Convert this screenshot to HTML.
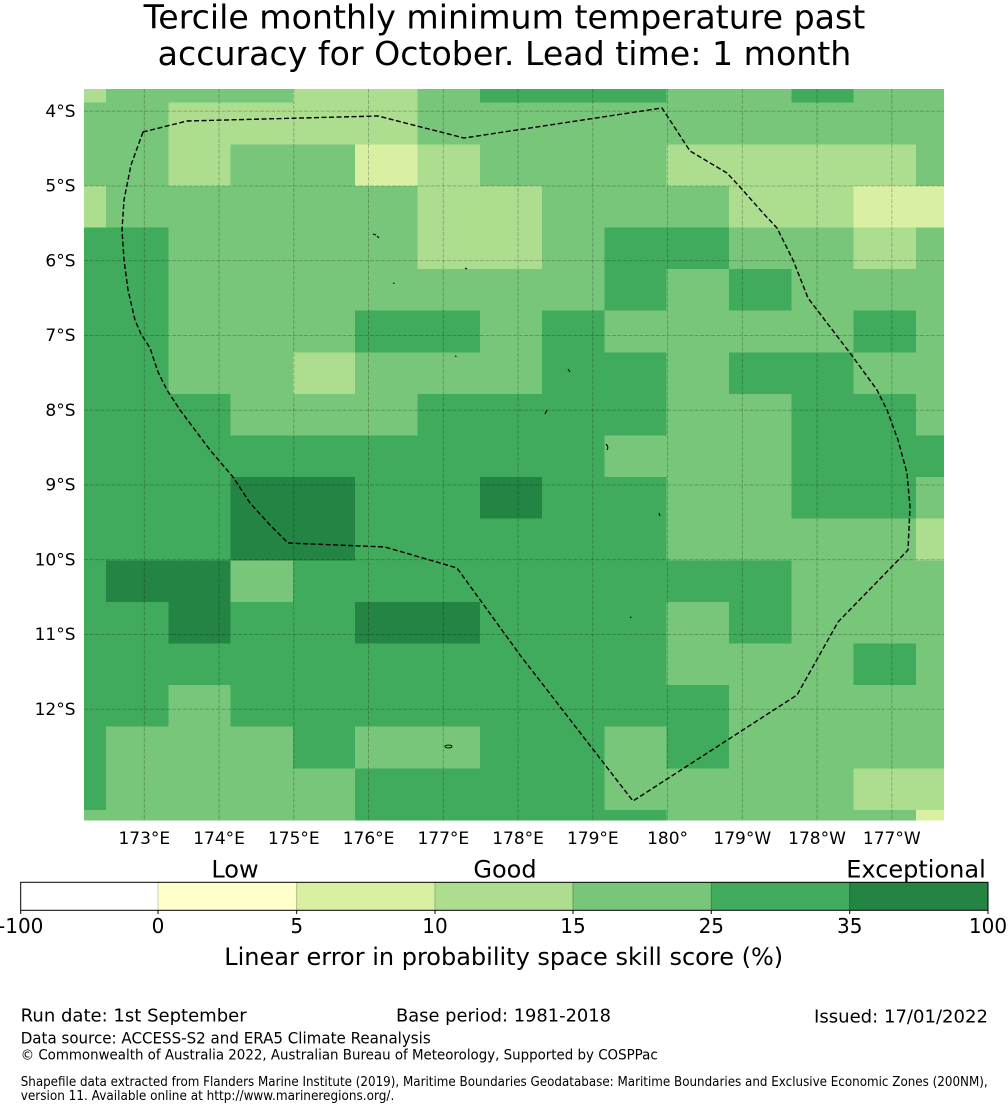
<!DOCTYPE html>
<html>
<head>
<meta charset="utf-8">
<style>
  html,body{margin:0;padding:0;background:#fff;}
  svg{display:block;}
  text{font-family:"DejaVu Sans","Liberation Sans",sans-serif;fill:#000;}
</style>
</head>
<body>
<svg xmlns="http://www.w3.org/2000/svg" width="1008" height="1110" viewBox="0 0 1008 1110">
  <rect x="0" y="0" width="1008" height="1110" fill="#fff"/>

  <!-- Title -->
  <text x="504.5" y="28.5" font-size="33.2" text-anchor="middle">Tercile monthly minimum temperature past</text>
  <text x="504.5" y="65" font-size="33.2" text-anchor="middle">accuracy for October. Lead time: 1 month</text>

  <!-- Map cells -->
  <g shape-rendering="crispEdges">
    <rect x="84" y="89" width="860" height="731.7" fill="#78c679"/>
    <!-- R0 -->
    <rect x="84" y="89" width="22" height="13.7" fill="#addd8e"/>
    <rect x="292.9" y="89" width="124.6" height="13.7" fill="#addd8e"/>
    <rect x="479.8" y="89" width="186.9" height="13.7" fill="#41ab5d"/>
    <rect x="791.3" y="89" width="62.3" height="13.7" fill="#41ab5d"/>
    <!-- R1 -->
    <rect x="168.3" y="102.7" width="249.2" height="41.6" fill="#addd8e"/>
    <!-- R2 -->
    <rect x="168.3" y="144.3" width="62.3" height="41.6" fill="#addd8e"/>
    <rect x="355.2" y="144.3" width="62.3" height="41.6" fill="#d9f0a3"/>
    <rect x="417.5" y="144.3" width="62.3" height="41.6" fill="#addd8e"/>
    <rect x="666.7" y="144.3" width="249.2" height="41.6" fill="#addd8e"/>
    <!-- R3 -->
    <rect x="84" y="185.9" width="22" height="41.6" fill="#addd8e"/>
    <rect x="417.5" y="185.9" width="124.6" height="41.6" fill="#addd8e"/>
    <rect x="729" y="185.9" width="124.6" height="41.6" fill="#addd8e"/>
    <rect x="853.6" y="185.9" width="90.4" height="41.6" fill="#d9f0a3"/>
    <!-- R4 -->
    <rect x="84" y="227.5" width="84.3" height="41.6" fill="#41ab5d"/>
    <rect x="417.5" y="227.5" width="124.6" height="41.6" fill="#addd8e"/>
    <rect x="604.4" y="227.5" width="124.6" height="41.6" fill="#41ab5d"/>
    <rect x="853.6" y="227.5" width="62.3" height="41.6" fill="#addd8e"/>
    <!-- R5 -->
    <rect x="84" y="269.1" width="84.3" height="41.6" fill="#41ab5d"/>
    <rect x="604.4" y="269.1" width="62.3" height="41.6" fill="#41ab5d"/>
    <rect x="729" y="269.1" width="62.3" height="41.6" fill="#41ab5d"/>
    <!-- R6 -->
    <rect x="84" y="310.7" width="84.3" height="41.6" fill="#41ab5d"/>
    <rect x="355.2" y="310.7" width="124.6" height="41.6" fill="#41ab5d"/>
    <rect x="542.1" y="310.7" width="62.3" height="41.6" fill="#41ab5d"/>
    <rect x="853.6" y="310.7" width="62.3" height="41.6" fill="#41ab5d"/>
    <!-- R7 -->
    <rect x="84" y="352.3" width="84.3" height="41.6" fill="#41ab5d"/>
    <rect x="292.9" y="352.3" width="62.3" height="41.6" fill="#addd8e"/>
    <rect x="542.1" y="352.3" width="124.6" height="41.6" fill="#41ab5d"/>
    <rect x="729" y="352.3" width="124.6" height="41.6" fill="#41ab5d"/>
    <!-- R8 -->
    <rect x="84" y="393.9" width="146.6" height="41.6" fill="#41ab5d"/>
    <rect x="417.5" y="393.9" width="249.2" height="41.6" fill="#41ab5d"/>
    <rect x="791.3" y="393.9" width="124.6" height="41.6" fill="#41ab5d"/>
    <!-- R9 -->
    <rect x="84" y="435.5" width="520.4" height="41.6" fill="#41ab5d"/>
    <rect x="791.3" y="435.5" width="152.7" height="41.6" fill="#41ab5d"/>
    <!-- R10 -->
    <rect x="84" y="477.1" width="146.6" height="41.6" fill="#41ab5d"/>
    <rect x="230.6" y="477.1" width="124.6" height="41.6" fill="#238443"/>
    <rect x="355.2" y="477.1" width="124.6" height="41.6" fill="#41ab5d"/>
    <rect x="479.8" y="477.1" width="62.3" height="41.6" fill="#238443"/>
    <rect x="542.1" y="477.1" width="124.6" height="41.6" fill="#41ab5d"/>
    <rect x="791.3" y="477.1" width="124.6" height="41.6" fill="#41ab5d"/>
    <!-- R11 -->
    <rect x="84" y="518.7" width="146.6" height="41.6" fill="#41ab5d"/>
    <rect x="230.6" y="518.7" width="124.6" height="41.6" fill="#238443"/>
    <rect x="355.2" y="518.7" width="311.5" height="41.6" fill="#41ab5d"/>
    <rect x="915.9" y="518.7" width="28.1" height="41.6" fill="#addd8e"/>
    <!-- R12 -->
    <rect x="84" y="560.3" width="22" height="41.6" fill="#41ab5d"/>
    <rect x="106" y="560.3" width="124.6" height="41.6" fill="#238443"/>
    <rect x="292.9" y="560.3" width="498.4" height="41.6" fill="#41ab5d"/>
    <!-- R13 -->
    <rect x="84" y="601.9" width="84.3" height="41.6" fill="#41ab5d"/>
    <rect x="168.3" y="601.9" width="62.3" height="41.6" fill="#238443"/>
    <rect x="230.6" y="601.9" width="124.6" height="41.6" fill="#41ab5d"/>
    <rect x="355.2" y="601.9" width="124.6" height="41.6" fill="#238443"/>
    <rect x="479.8" y="601.9" width="186.9" height="41.6" fill="#41ab5d"/>
    <rect x="729" y="601.9" width="62.3" height="41.6" fill="#41ab5d"/>
    <!-- R14 -->
    <rect x="84" y="643.5" width="582.7" height="41.6" fill="#41ab5d"/>
    <rect x="853.6" y="643.5" width="62.3" height="41.6" fill="#41ab5d"/>
    <!-- R15 -->
    <rect x="84" y="685.1" width="84.3" height="41.6" fill="#41ab5d"/>
    <rect x="230.6" y="685.1" width="498.4" height="41.6" fill="#41ab5d"/>
    <!-- R16 -->
    <rect x="84" y="726.7" width="22" height="41.6" fill="#41ab5d"/>
    <rect x="292.9" y="726.7" width="62.3" height="41.6" fill="#41ab5d"/>
    <rect x="479.8" y="726.7" width="124.6" height="41.6" fill="#41ab5d"/>
    <rect x="666.7" y="726.7" width="62.3" height="41.6" fill="#41ab5d"/>
    <!-- R17 -->
    <rect x="84" y="768.3" width="22" height="41.6" fill="#41ab5d"/>
    <rect x="355.2" y="768.3" width="249.2" height="41.6" fill="#41ab5d"/>
    <rect x="853.6" y="768.3" width="90.4" height="41.6" fill="#addd8e"/>
    <!-- R18 -->
    <rect x="355.2" y="809.9" width="311.5" height="10.8" fill="#41ab5d"/>
    <rect x="915.9" y="809.9" width="28.1" height="10.8" fill="#d9f0a3"/>
  </g>

  <!-- Gridlines -->
  <g stroke="#000" stroke-opacity="0.25" stroke-width="0.9" stroke-dasharray="4,1.5" fill="none">
    <line x1="144.3" y1="89" x2="144.3" y2="820.7"/>
    <line x1="219.05" y1="89" x2="219.05" y2="820.7"/>
    <line x1="293.8" y1="89" x2="293.8" y2="820.7"/>
    <line x1="368.55" y1="89" x2="368.55" y2="820.7"/>
    <line x1="443.3" y1="89" x2="443.3" y2="820.7"/>
    <line x1="518.05" y1="89" x2="518.05" y2="820.7"/>
    <line x1="592.8" y1="89" x2="592.8" y2="820.7"/>
    <line x1="667.55" y1="89" x2="667.55" y2="820.7"/>
    <line x1="742.3" y1="89" x2="742.3" y2="820.7"/>
    <line x1="817.05" y1="89" x2="817.05" y2="820.7"/>
    <line x1="891.8" y1="89" x2="891.8" y2="820.7"/>
    <line x1="84" y1="111.2" x2="944" y2="111.2"/>
    <line x1="84" y1="185.95" x2="944" y2="185.95"/>
    <line x1="84" y1="260.7" x2="944" y2="260.7"/>
    <line x1="84" y1="335.45" x2="944" y2="335.45"/>
    <line x1="84" y1="410.2" x2="944" y2="410.2"/>
    <line x1="84" y1="484.95" x2="944" y2="484.95"/>
    <line x1="84" y1="559.7" x2="944" y2="559.7"/>
    <line x1="84" y1="634.45" x2="944" y2="634.45"/>
    <line x1="84" y1="709.2" x2="944" y2="709.2"/>
  </g>

  <!-- EEZ boundary -->
  <path d="M143,132 L131,165 L124,200 L122,230 L124,260 L128,290 L135,320 L141,334 L150,348 L158,372 L167,390 L180,410 L195,430 L210,450 L233,477 L250,503 L270,525 L288,543 L385,547 L457,568 L520,655 L633,801 L797,695 L838,622 L908,550 L910,507 L907,473 L898,440 L887,410 L877,390 L853,357 L808,298 L793,260 L777,228 L763,213 L740,187 L727,173 L690,151 L662,108 L464,138 L378,116 L187,121 Z"
        fill="none" stroke="#000" stroke-width="1.4" stroke-dasharray="5,2.5"/>

  <!-- small islands -->
  <g stroke="#000" stroke-width="1.1" fill="none">
    <line x1="373" y1="234" x2="376" y2="235"/>
    <line x1="377" y1="236" x2="379" y2="238"/>
    <line x1="393" y1="283" x2="394.5" y2="283.5"/>
    <line x1="465" y1="268" x2="467" y2="269"/>
    <line x1="455" y1="356" x2="456.5" y2="356.5"/>
    <line x1="568" y1="369" x2="570" y2="372"/>
    <line x1="545" y1="414" x2="547" y2="410"/>
    <path d="M606,444 Q609,447 607,450"/>
    <line x1="659" y1="513" x2="660" y2="516"/>
    <line x1="630" y1="617" x2="631.5" y2="617.5"/>
    <ellipse cx="448.5" cy="746.5" rx="3.5" ry="1.4" stroke-width="0.9"/>
  </g>

  <!-- Left tick labels -->
  <g font-size="17" text-anchor="end">
    <text x="75.5" y="116.8">4°S</text>
    <text x="75.5" y="191.5">5°S</text>
    <text x="75.5" y="266.3">6°S</text>
    <text x="75.5" y="341">7°S</text>
    <text x="75.5" y="415.8">8°S</text>
    <text x="75.5" y="490.5">9°S</text>
    <text x="75.5" y="565.3">10°S</text>
    <text x="75.5" y="640">11°S</text>
    <text x="75.5" y="714.8">12°S</text>
  </g>

  <!-- Bottom tick labels -->
  <g font-size="17" text-anchor="middle">
    <text x="144.3" y="844">173°E</text>
    <text x="219.05" y="844">174°E</text>
    <text x="293.8" y="844">175°E</text>
    <text x="368.55" y="844">176°E</text>
    <text x="443.3" y="844">177°E</text>
    <text x="518.05" y="844">178°E</text>
    <text x="592.8" y="844">179°E</text>
    <text x="667.55" y="844">180°</text>
    <text x="742.3" y="844">179°W</text>
    <text x="817.05" y="844">178°W</text>
    <text x="891.8" y="844">177°W</text>
  </g>

  <!-- Colorbar category labels -->
  <g font-size="24" text-anchor="middle">
    <text x="235" y="877.3">Low</text>
    <text x="505" y="877.3">Good</text>
    <text x="916" y="877.3">Exceptional</text>
  </g>

  <!-- Colorbar -->
  <g shape-rendering="crispEdges">
    <rect x="20.7" y="882.3" width="137.3" height="28" fill="#ffffff"/>
    <rect x="158" y="882.3" width="138.7" height="28" fill="#ffffcc"/>
    <rect x="296.7" y="882.3" width="138.3" height="28" fill="#d9f0a3"/>
    <rect x="435" y="882.3" width="138" height="28" fill="#addd8e"/>
    <rect x="573" y="882.3" width="138.3" height="28" fill="#78c679"/>
    <rect x="711.3" y="882.3" width="138.4" height="28" fill="#41ab5d"/>
    <rect x="849.7" y="882.3" width="138.3" height="28" fill="#238443"/>
  </g>
  <g stroke-width="1">
    <line x1="158" y1="882.3" x2="158" y2="910.3" stroke="#cfcfb8"/>
    <line x1="296.7" y1="882.3" x2="296.7" y2="910.3" stroke="#a9c07e"/>
    <line x1="435" y1="882.3" x2="435" y2="910.3" stroke="#8ab777"/>
    <line x1="573" y1="882.3" x2="573" y2="910.3" stroke="#5e9c62"/>
    <line x1="711.3" y1="882.3" x2="711.3" y2="910.3" stroke="#3c8a50"/>
    <line x1="849.7" y1="882.3" x2="849.7" y2="910.3" stroke="#1d6a36"/>
  </g>
  <rect x="20.7" y="882.3" width="967.3" height="28" fill="none" stroke="#000" stroke-width="1"/>
  <g stroke="#000" stroke-width="1">
    <line x1="20.7" y1="910.3" x2="20.7" y2="914"/>
    <line x1="158" y1="910.3" x2="158" y2="914"/>
    <line x1="296.7" y1="910.3" x2="296.7" y2="914"/>
    <line x1="435" y1="910.3" x2="435" y2="914"/>
    <line x1="573" y1="910.3" x2="573" y2="914"/>
    <line x1="711.3" y1="910.3" x2="711.3" y2="914"/>
    <line x1="849.7" y1="910.3" x2="849.7" y2="914"/>
    <line x1="988" y1="910.3" x2="988" y2="914"/>
  </g>
  <g font-size="20" text-anchor="middle">
    <text x="20.7" y="933">-100</text>
    <text x="158" y="933">0</text>
    <text x="296.7" y="933">5</text>
    <text x="435" y="933">10</text>
    <text x="573" y="933">15</text>
    <text x="711.3" y="933">25</text>
    <text x="849.7" y="933">35</text>
    <text x="988" y="933">100</text>
  </g>
  <text x="503.7" y="965" font-size="24" text-anchor="middle">Linear error in probability space skill score (%)</text>

  <!-- Footer -->
  <text x="20.7" y="1021.7" font-size="18" textLength="226" lengthAdjust="spacingAndGlyphs">Run date: 1st September</text>
  <text x="396" y="1021.7" font-size="18" textLength="215" lengthAdjust="spacingAndGlyphs">Base period: 1981-2018</text>
  <text x="814" y="1022.5" font-size="18" textLength="174" lengthAdjust="spacingAndGlyphs">Issued: 17/01/2022</text>
  <text x="20.7" y="1043.3" font-size="16" textLength="410" lengthAdjust="spacingAndGlyphs">Data source: ACCESS-S2 and ERA5 Climate Reanalysis</text>
  <text x="20.7" y="1059.3" font-size="14" textLength="637" lengthAdjust="spacingAndGlyphs">© Commonwealth of Australia 2022, Australian Bureau of Meteorology, Supported by COSPPac</text>
  <text x="20.7" y="1086" font-size="13" textLength="967" lengthAdjust="spacingAndGlyphs">Shapefile data extracted from Flanders Marine Institute (2019), Maritime Boundaries Geodatabase: Maritime Boundaries and Exclusive Economic Zones (200NM),</text>
  <text x="20.7" y="1100" font-size="13" textLength="373.6" lengthAdjust="spacingAndGlyphs">version 11. Available online at http://www.marineregions.org/.</text>
</svg>
</body>
</html>
